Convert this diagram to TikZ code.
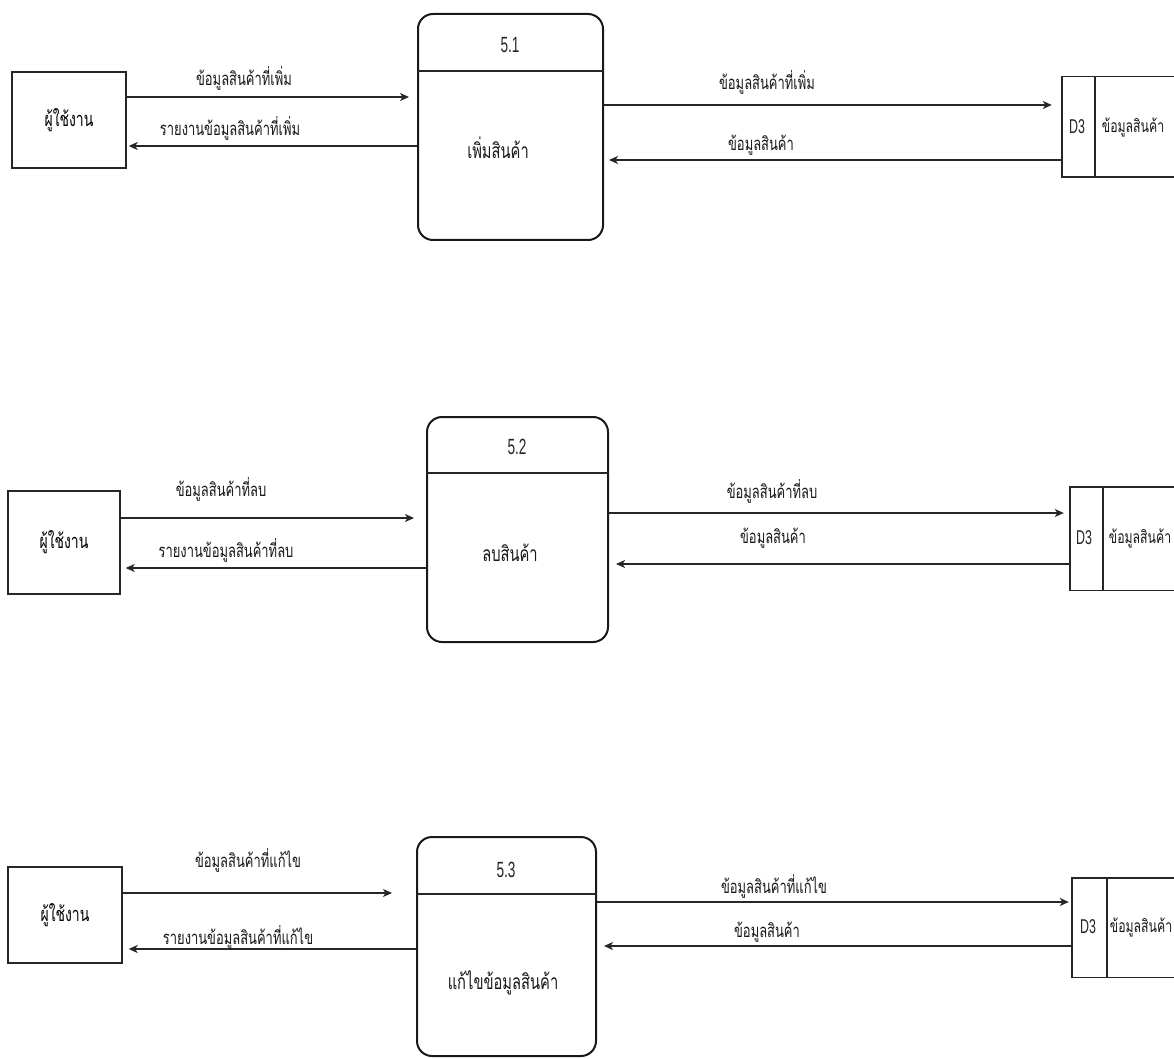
\documentclass[tikz,border=0pt]{standalone}
\usepackage{fontspec}
\setmainfont{Liberation Sans}[FakeStretch=0.62]
\newfontfamily\thai[Script=Thai,FakeStretch=0.7]{Loma}
\usetikzlibrary{arrows.meta,calc}

\begin{document}
\begin{tikzpicture}[x=1pt,y=-1pt,
  line/.style={draw=black!85, line width=1.4pt},
  flow/.style={line, -{Stealth[length=9pt,width=8pt,inset=2.5pt]}},
  entity/.style={line, minimum width=114pt, minimum height=96pt, inner sep=0pt,
    font=\thai\fontsize{20}{22}\selectfont},
  process/.style={draw=black!90, line width=2pt, rounded corners=15pt,
    minimum width=182pt, minimum height=224pt, inner sep=0pt},
  store/.style={minimum width=110pt, minimum height=100pt, inner sep=0pt},
  pid/.style={font=\fontsize{22}{24}\selectfont, text=black!85},
  pname/.style={font=\thai\fontsize{21}{23}\selectfont, text=black!90},
  lbl/.style={font=\thai\fontsize{18.5}{20}\selectfont, text=black!90, inner sep=0pt},
  sid/.style={font=\fontsize{20}{22}\selectfont, text=black!85},
  sname/.style={font=\thai\fontsize{17.5}{20}\selectfont, text=black!90}
]
\useasboundingbox (0,0) rectangle (1174,1059);
\fill[white] (0,0) rectangle (1174,1059);

% ---------- 5.1 add product ----------
\node[entity] (u1) at (69,120) {ผู้ใช้งาน};
\node[process, minimum width=185pt, minimum height=226pt] (p1) at (510.5,127) {};
\draw[line, line width=2pt] (p1.west |- 0,71) -- (p1.east |- 0,71);
\node[pid] (p1id) at (510,45) {5.1};
\node[pname] (p1nm) at (498,148) {เพิ่มสินค้า};
\node[store] (s1) at (1117,127) {};
\draw[line] ($(s1.north east)+(6,0)$) -- (s1.north west) -- (s1.south west) -- ($(s1.south east)+(6,0)$);
\draw[line] (s1.north west -| 1095,0) -- (s1.south west -| 1095,0);
\node[sid] (s1id) at (1077,127) {D3};
\node[sname] (s1nm) at (1133,127) {ข้อมูลสินค้า};

\draw[flow] (u1.east |- 0,97) -- ([xshift=-8pt]p1.west |- 0,97);
\draw[flow] (p1.west |- 0,146) -- ([xshift=2pt]u1.east |- 0,146);
\draw[flow] (p1.east |- 0,105) -- ([xshift=-10pt]s1.west |- 0,105);
\draw[flow] (s1.west |- 0,160) -- ([xshift=5pt]p1.east |- 0,160);
\node[lbl] (l1a) at (244,78) {ข้อมูลสินค้าที่เพิ่ม};
\node[lbl] (l1b) at (230,128) {รายงานข้อมูลสินค้าที่เพิ่ม};
\node[lbl] (l1c) at (767,82) {ข้อมูลสินค้าที่เพิ่ม};
\node[lbl] (l1d) at (761,145) {ข้อมูลสินค้า};

% ---------- 5.2 delete product ----------
\node[entity, minimum width=112pt, minimum height=103pt] (u2) at (64,542.5) {ผู้ใช้งาน};
\node[process, minimum width=181pt, minimum height=225pt] (p2) at (517.5,529.5) {};
\draw[line, line width=2pt] (p2.west |- 0,473) -- (p2.east |- 0,473);
\node[pid] (p2id) at (517,447) {5.2};
\node[pname] (p2nm) at (510,553) {ลบสินค้า};
\node[store, minimum width=104pt, minimum height=103pt] (s2) at (1122,538.5) {};
\draw[line] ($(s2.north east)+(6,0)$) -- (s2.north west) -- (s2.south west) -- ($(s2.south east)+(6,0)$);
\draw[line] (s2.north west -| 1103,0) -- (s2.south west -| 1103,0);
\node[sid] (s2id) at (1084,538) {D3};
\node[sname] (s2nm) at (1140,538) {ข้อมูลสินค้า};

\draw[flow] (u2.east |- 0,518) -- ([xshift=-12pt]p2.west |- 0,518);
\draw[flow] (p2.west |- 0,568) -- ([xshift=5pt]u2.east |- 0,568);
\draw[flow] (p2.east |- 0,513) -- ([xshift=-6pt]s2.west |- 0,513);
\draw[flow] (s2.west |- 0,564) -- ([xshift=7pt]p2.east |- 0,564);
\node[lbl] (l2a) at (221,489) {ข้อมูลสินค้าที่ลบ};
\node[lbl] (l2b) at (226,550) {รายงานข้อมูลสินค้าที่ลบ};
\node[lbl] (l2c) at (772,491) {ข้อมูลสินค้าที่ลบ};
\node[lbl] (l2d) at (773,538) {ข้อมูลสินค้า};

% ---------- 5.3 edit product ----------
\node[entity] (u3) at (65,915) {ผู้ใช้งาน};
\node[process, minimum width=179pt, minimum height=219pt] (p3) at (506.5,946.5) {};
\draw[line, line width=2pt] (p3.west |- 0,894) -- (p3.east |- 0,894);
\node[pid] (p3id) at (506,870) {5.3};
\node[pname] (p3nm) at (503,983) {แก้ไขข้อมูลสินค้า};
\node[store, minimum width=102pt, minimum height=99pt] (s3) at (1123,927.5) {};
\draw[line] ($(s3.north east)+(6,0)$) -- (s3.north west) -- (s3.south west) -- ($(s3.south east)+(6,0)$);
\draw[line] (s3.north west -| 1107,0) -- (s3.south west -| 1107,0);
\node[sid] (s3id) at (1088,927) {D3};
\node[sname] (s3nm) at (1141,927) {ข้อมูลสินค้า};

\draw[flow] (u3.east |- 0,893) -- ([xshift=-24pt]p3.west |- 0,893);
\draw[flow] (p3.west |- 0,949) -- ([xshift=6pt]u3.east |- 0,949);
\draw[flow] (p3.east |- 0,902) -- ([xshift=-3pt]s3.west |- 0,902);
\draw[flow] (s3.west |- 0,946) -- ([xshift=7pt]p3.east |- 0,946);
\node[lbl] (l3a) at (248,860) {ข้อมูลสินค้าที่แก้ไข};
\node[lbl] (l3b) at (238,937) {รายงานข้อมูลสินค้าที่แก้ไข};
\node[lbl] (l3c) at (774,886) {ข้อมูลสินค้าที่แก้ไข};
\node[lbl] (l3d) at (767,932) {ข้อมูลสินค้า};
\end{tikzpicture}
\end{document}
